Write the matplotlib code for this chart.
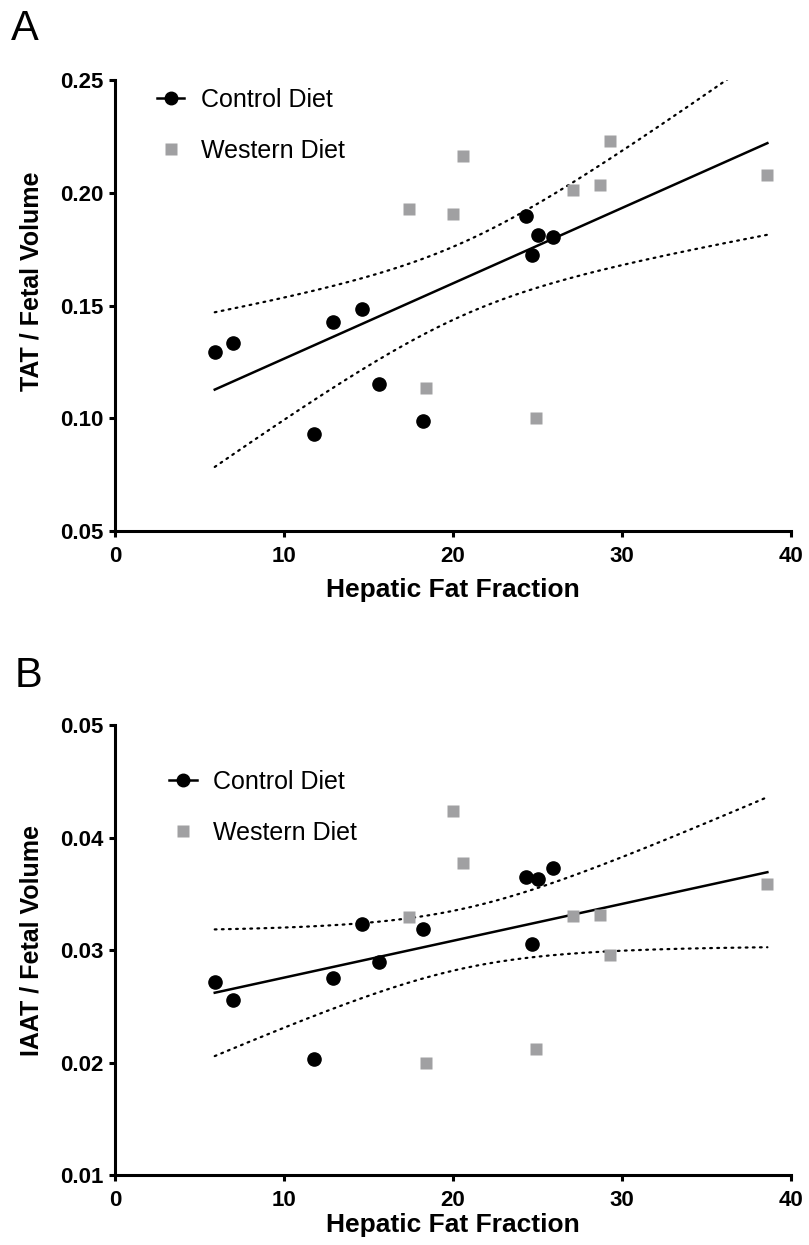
import numpy as np
import matplotlib
matplotlib.use("Agg")
import matplotlib.pyplot as plt

plt.rcParams['font.family'] = ['Liberation Sans', 'DejaVu Sans']

# hepatic fat fraction, same animals in both panels
control_hff = [5.9, 7.0, 11.8, 12.9, 14.6, 15.6, 18.2, 24.3, 24.7, 25.0, 25.9]
western_hff = [17.4, 18.4, 20.0, 20.6, 24.9, 27.1, 28.7, 29.3, 38.6]

# panel A: TAT / fetal volume
control_tat = [0.1295, 0.1333, 0.0928, 0.1428, 0.1484, 0.1153, 0.0987, 0.1898, 0.1725, 0.1815, 0.1803]
western_tat = [0.1930, 0.1132, 0.1905, 0.2161, 0.1002, 0.2013, 0.2033, 0.2229, 0.2079]

# panel B: IAAT / fetal volume
control_iaat = [0.0272, 0.0256, 0.0203, 0.0275, 0.0323, 0.0289, 0.0319, 0.0365, 0.0305, 0.0363, 0.0373]
western_iaat = [0.0329, 0.0200, 0.0424, 0.0377, 0.0212, 0.0330, 0.0331, 0.0296, 0.0359]

T_CRIT = 2.101  # t(0.975, df=18)
GREY = '#a0a0a2'

#============================================================================#
# linear fit over both groups with 95% confidence band
def fit_band(x, y):
    x = np.asarray(x)
    y = np.asarray(y)
    n = len(x)
    b, a = np.polyfit(x, y, 1)
    resid = y - (a + b*x)
    s = np.sqrt(np.sum(resid**2)/(n-2))
    xm = x.mean()
    sxx = np.sum((x-xm)**2)
    xs = np.linspace(x.min(), x.max(), 200)
    yfit = a + b*xs
    half = T_CRIT*s*np.sqrt(1.0/n + (xs-xm)**2/sxx)
    return xs, yfit, yfit-half, yfit+half


def panel(ax, cy, wy, ylim, yticks, ylabel, leg_anchor, xlab_y, ylab_y):
    xs, yfit, lo, hi = fit_band(control_hff + western_hff, cy + wy)
    ax.plot(xs, yfit, color='black', lw=1.8, zorder=2)
    for band in (lo, hi):
        ax.plot(xs, band, color='black', lw=1.6, dashes=(0.8, 2.4),
                dash_capstyle='round', zorder=2)
    ax.plot(control_hff, cy, 'o', color='black', ms=9.5, zorder=3)
    ax.plot(western_hff, wy, 's', color=GREY, ms=9.3, mec='none', zorder=3)

    # legend handles: control drawn with line + marker
    h1, = ax.plot([], [], '-o', color='black', ms=9, lw=1.8)
    h2, = ax.plot([], [], 's', color=GREY, ms=9, mec='none')
    ax.legend([h1, h2], ['Control Diet', 'Western Diet'], loc='upper left',
              bbox_to_anchor=leg_anchor, frameon=False, fontsize=18,
              handlelength=1.1, handletextpad=0.65, labelspacing=1.08,
              borderpad=0, borderaxespad=0)

    ax.set_xlim(0, 40)
    ax.set_ylim(*ylim)
    ax.set_xticks([0, 10, 20, 30, 40])
    ax.set_yticks(yticks)
    ax.yaxis.set_major_formatter(matplotlib.ticker.FormatStrFormatter('%.2f'))
    for sp in ('top', 'right'):
        ax.spines[sp].set_visible(False)
    for sp in ('left', 'bottom'):
        ax.spines[sp].set_linewidth(2.2)
    ax.tick_params(direction='out', length=4.5, width=2.2, labelsize=16)
    ax.tick_params(axis='x', pad=6)
    ax.tick_params(axis='y', pad=3.5)
    for lab in ax.get_xticklabels() + ax.get_yticklabels():
        lab.set_fontweight('bold')
    ax.set_xlabel('Hepatic Fat Fraction', fontsize=19, fontweight='bold')
    ax.set_ylabel(ylabel, fontsize=18, fontweight='bold')
    ax.xaxis.set_label_coords(0.5, xlab_y)
    ax.yaxis.set_label_coords(-0.106, ylab_y)


fig = plt.figure(figsize=(8.09, 12.45), dpi=100)
axA = fig.add_axes([0.1422, 0.5735, 0.8356, 0.3622])
axB = fig.add_axes([0.1422, 0.0562, 0.8356, 0.3614])

panel(axA, control_tat, western_tat, (0.05, 0.25),
      [0.05, 0.10, 0.15, 0.20, 0.25], 'TAT / Fetal Volume', (0.062, 0.982), -0.105, 0.554)
panel(axB, control_iaat, western_iaat, (0.01, 0.05),
      [0.01, 0.02, 0.03, 0.04, 0.05], 'IAAT / Fetal Volume', (0.08, 0.901), -0.085, 0.522)

fig.text(0.014, 0.993, 'A', fontsize=30, va='top', ha='left')
fig.text(0.018, 0.473, 'B', fontsize=30, va='top', ha='left')

fig.savefig('out.png', dpi=100)
